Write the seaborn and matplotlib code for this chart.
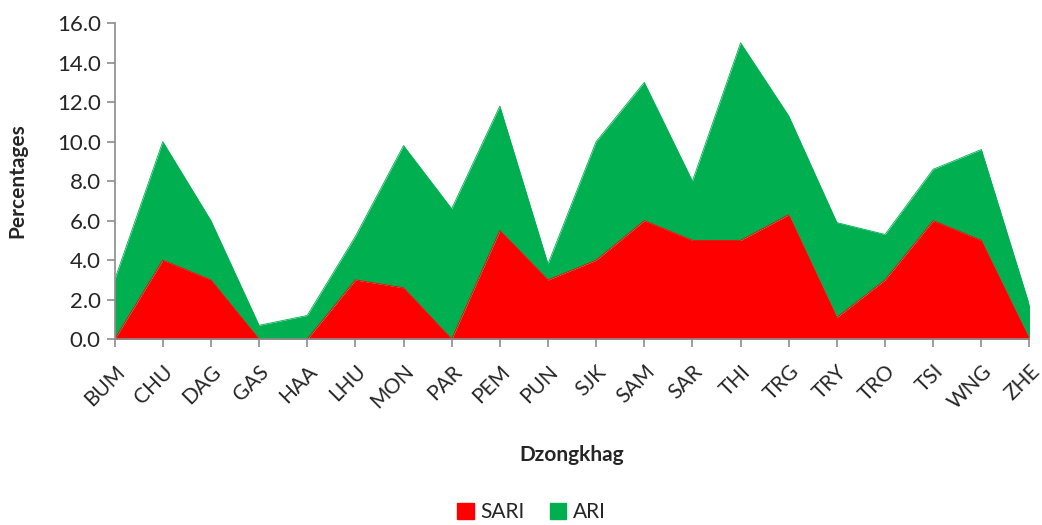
import numpy as np
import pandas as pd
import matplotlib
matplotlib.use("Agg")
from matplotlib import pyplot as plt
from matplotlib.patches import Patch
import seaborn as sns

# values (stacked area: ARI sits on top of SARI)
dzongkhag = ['BUM', 'CHU', 'DAG', 'GAS', 'HAA', 'LHU', 'MON', 'PAR', 'PEM', 'PUN',
             'SJK', 'SAM', 'SAR', 'THI', 'TRG', 'TRY', 'TRO', 'TSI', 'WNG', 'ZHE']
sari = [0.0, 4.0, 3.0, 0.0, 0.0, 3.0, 2.6, 0.0, 5.5, 3.0,
        4.0, 6.0, 5.0, 5.0, 6.3, 1.1, 3.0, 6.0, 5.0, 0.0]
ari = [3.0, 6.0, 3.0, 0.7, 1.2, 2.2, 7.2, 6.6, 6.3, 0.8,
       6.0, 7.0, 3.0, 10.0, 5.0, 4.8, 2.3, 2.6, 4.6, 1.7]

red = '#FF0000'
green = '#00B050'

sns.set_style('white')
plt.rcParams['font.family'] = ['Lato', 'DejaVu Sans']

df = pd.DataFrame({'Dzongkhag': dzongkhag, 'SARI': sari, 'ARI': ari})
df['pos'] = np.arange(len(df))
df['top'] = df['SARI'] + df['ARI']

fig = plt.figure(figsize=(10.42, 5.25), dpi=100)
ax = fig.add_axes([0.110, 0.354, 0.878, 0.602])

ax.fill_between(df['pos'], 0, df['SARI'], color=red, linewidth=0)
ax.fill_between(df['pos'], df['SARI'], df['top'], color=green, linewidth=0)
sns.lineplot(x='pos', y='SARI', data=df, ax=ax, color=red, linewidth=0.6)
sns.lineplot(x='pos', y='top', data=df, ax=ax, color=green, linewidth=0.6)

ax.set_xlim(0, len(df) - 1)
ax.set_ylim(0, 16)
ax.set_yticks(np.arange(0, 16.1, 2))
ax.set_yticklabels(['%.1f' % v for v in np.arange(0, 16.1, 2)], fontsize=16)
ax.set_xticks(df['pos'])
ax.set_xticklabels(dzongkhag, rotation=45, ha='right', rotation_mode='anchor', fontsize=15)

for s in ['top', 'right']:
    ax.spines[s].set_visible(False)
for s in ['left', 'bottom']:
    ax.spines[s].set_color('#8c8c8c')
    ax.spines[s].set_linewidth(1.2)
ax.tick_params(axis='both', direction='out', length=6, width=1.2, color='#8c8c8c',
               left=True, bottom=True, pad=4)
ax.tick_params(axis='x', pad=10)

ax.set_xlabel('Dzongkhag', fontsize=15, fontweight='bold')
ax.set_ylabel('Percentages', fontsize=15, fontweight='bold')
ax.xaxis.set_label_coords(0.5, -0.335)
ax.yaxis.set_label_coords(-0.095, 0.5)

handles = [Patch(color=red, label='SARI'), Patch(color=green, label='ARI')]
fig.legend(handles=handles, loc='center', bbox_to_anchor=(0.51, 0.025), ncol=2,
           frameon=False, fontsize=15, handlelength=0.8, handleheight=0.8,
           handletextpad=0.3, columnspacing=1.2)

fig.savefig('out.png', dpi=100)
